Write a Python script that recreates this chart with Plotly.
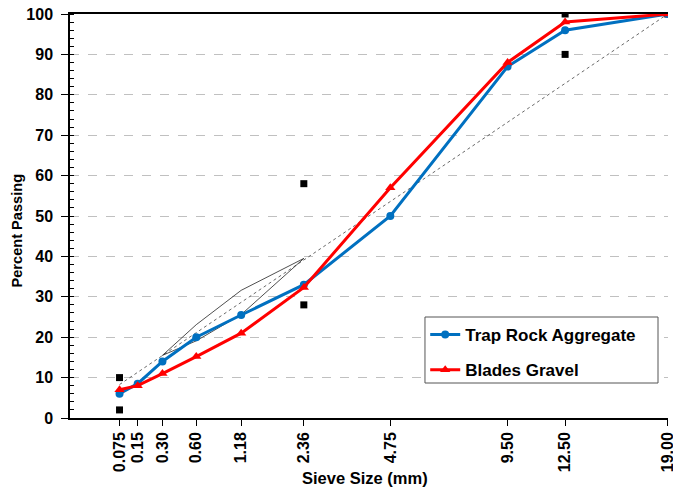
import plotly.graph_objects as go

sieves = [0.075, 0.15, 0.30, 0.60, 1.18, 2.36, 4.75, 9.50, 12.50, 19.00]
tick_labels = ["0.075", "0.15", "0.30", "0.60", "1.18", "2.36", "4.75", "9.50", "12.50", "19.00"]
trap_rock = [6.0, 8.5, 14.0, 20.0, 25.5, 33.0, 50.0, 87.0, 96.0, 100.0]
blades = [7.0, 8.0, 11.0, 15.2, 21.0, 32.3, 57.0, 88.0, 98.0, 100.0]

ctrl_sieves = [0.075, 0.075, 2.36, 2.36, 12.50, 12.50, 19.00]
ctrl_vals = [2, 10, 28, 58, 90, 100, 100]

maxden_sieves = [0.075, 19.00]
maxden_vals = [8.28, 100]

rz_sieves = [0.30, 0.60, 1.18, 2.36, 1.18, 0.60, 0.30]
rz_vals = [15.5, 23.1, 31.6, 39.5, 25.6, 19.1, 15.5]

P = 0.45
tx = lambda arr: [s ** P for s in arr]

fnt = "Liberation Sans, Arial, sans-serif"
fig = go.Figure()
fig.add_trace(go.Scatter(x=tx(maxden_sieves), y=maxden_vals, mode="lines",
                         line=dict(color="#444444", width=0.8, dash="dot"), showlegend=False))
fig.add_trace(go.Scatter(x=tx(rz_sieves), y=rz_vals, mode="lines",
                         line=dict(color="#222222", width=0.8), showlegend=False))
fig.add_trace(go.Scatter(x=tx(ctrl_sieves), y=ctrl_vals, mode="markers",
                         marker=dict(symbol="square", color="black", size=7), showlegend=False))
fig.add_trace(go.Scatter(x=tx(sieves), y=trap_rock, mode="lines+markers", name="Trap Rock Aggregate",
                         legendgroup="a",
                         line=dict(color="#0070C0", width=3), marker=dict(symbol="circle", size=8, color="#0070C0")))
fig.add_trace(go.Scatter(x=tx(sieves), y=blades, mode="lines+markers", name="Blades Gravel",
                         legendgroup="b",
                         line=dict(color="#FF0000", width=3), marker=dict(symbol="triangle-up", size=9, color="#FF0000")))

fig.update_layout(
    width=673, height=488,
    margin=dict(l=70, r=5, t=14, b=70),
    plot_bgcolor="white", paper_bgcolor="white",
    font=dict(family=fnt, size=14, color="black"),
    legend=dict(x=0.594, y=0.25, xanchor="left", yanchor="top",
                borderwidth=0, bgcolor="rgba(0,0,0,0)",
                font=dict(size=17, weight="bold"), tracegroupgap=10,
                itemwidth=30),
    shapes=[dict(type="rect", xref="paper", yref="paper", x0=0.5936, x1=0.9833, y0=0.0866, y1=0.25,
                 line=dict(color="#555555", width=1), fillcolor="white", layer="above")],
    xaxis=dict(range=[0, 19.0 ** P * 1.0004], tickvals=tx(sieves), ticktext=tick_labels,
               tickangle=-90, ticks="outside", ticklen=6, tickcolor="black",
               tickfont=dict(size=16, weight="bold"), ticklabeloverflow="allow",
               showline=True, linecolor="black", linewidth=1.5, mirror=True,
               showgrid=False, zeroline=False, automargin=False),
    yaxis=dict(range=[0, 100], dtick=10, ticks="outside", ticklen=7, tickcolor="black",
               tickfont=dict(size=16, weight="bold"), ticklabelstandoff=5,
               showline=True, linecolor="black", linewidth=1.5,
               showgrid=True, gridcolor="#c0c0c0", griddash="dash", gridwidth=1,
               zeroline=False, automargin=False,
               minor=dict(dtick=2, ticks="inside", ticklen=4, tickcolor="black", showgrid=False)),
    annotations=[
        dict(text="Percent Passing", xref="paper", yref="paper", x=-0.088, y=0.465,
             xanchor="center", yanchor="middle", textangle=-90, showarrow=False,
             font=dict(size=14.6, weight="bold")),
        dict(text="Sieve Size (mm)", xref="paper", yref="paper", x=0.494, y=-0.148,
             xanchor="center", yanchor="middle", showarrow=False,
             font=dict(size=16.5, weight="bold")),
    ],
)

fig.write_html("out.html")
